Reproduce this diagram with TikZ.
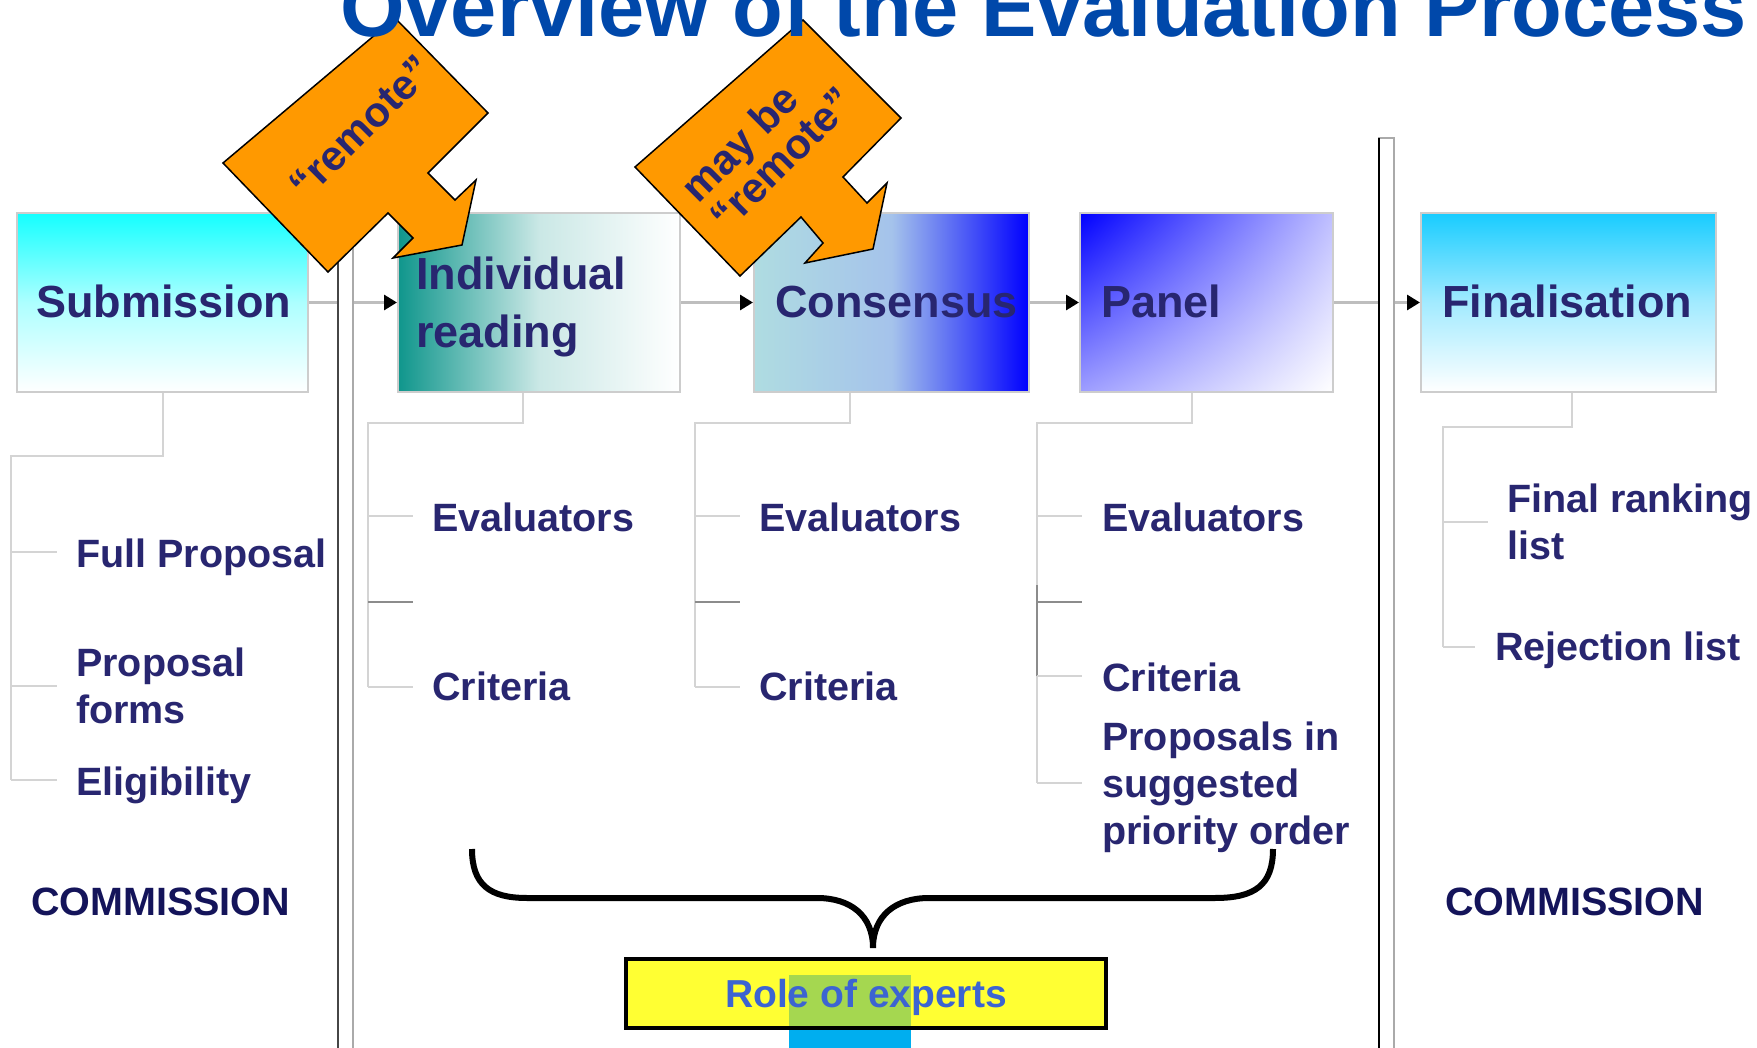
\documentclass[tikz,border=0pt]{standalone}
\usepackage{fontspec}
\setmainfont{Liberation Sans}
\usetikzlibrary{arrows.meta,calc,shadings}
\definecolor{txtnavy}{RGB}{40,38,112}
\definecolor{cmnavy}{RGB}{20,20,90}
\definecolor{titleblue}{RGB}{0,72,170}
\definecolor{orangeC}{RGB}{255,153,0}
\definecolor{treegray}{RGB}{212,212,212}
\definecolor{darktree}{RGB}{140,140,140}
\definecolor{arrowgray}{RGB}{190,190,190}
\definecolor{boxborder}{RGB}{205,205,205}
\definecolor{subcyan}{RGB}{20,255,255}
\definecolor{teal1}{RGB}{15,150,140}
\definecolor{conleft}{RGB}{175,220,225}
\definecolor{conmid}{RGB}{165,195,235}
\definecolor{finblue}{RGB}{24,204,255}
\definecolor{roleyellow}{RGB}{255,255,51}
\definecolor{rolegreen}{RGB}{165,215,80}
\definecolor{roleblue}{RGB}{0,174,239}
\definecolor{roletext}{RGB}{60,100,210}
\definecolor{bargray}{RGB}{170,170,170}
\definecolor{bardark}{RGB}{70,70,70}
\begin{document}
\begin{tikzpicture}[x=1pt,y=-1pt,
  box/.style={rectangle, draw=boxborder, line width=2pt, inner sep=0pt, minimum height=179pt},
  boxtxt/.style={font=\fontsize{45}{58}\selectfont\bfseries, text=txtnavy, inner sep=0pt, align=left},
  item/.style={font=\fontsize{39.5}{47}\selectfont\bfseries, text=txtnavy, inner sep=0pt, align=left},
  cmtxt/.style={font=\fontsize{39.5}{47}\selectfont\bfseries, text=cmnavy, inner sep=0pt},
  arr/.style={draw=arrowgray, line width=3pt, -{Triangle[length=13pt,width=15pt,color=black]}},
  tree/.style={draw=treegray, line width=2.5pt},
  darktick/.style={draw=darktree, line width=2.5pt},
  bar/.style={fill=white, draw=bargray, line width=2.5pt},
  callout/.style={fill=orangeC, draw=black, line width=1.5pt, line join=miter},
  calltxt/.style={font=\fontsize{42}{41}\selectfont\bfseries, text=txtnavy, inner sep=0pt, rotate=45, align=left},
  brace/.style={draw=black, line width=6pt}
]
\useasboundingbox (0,0) rectangle (1757,1048);
\clip (0,0) rectangle (1757,1048);
\fill[white] (0,0) rectangle (1757,1048);

% process boxes
\node[box, minimum width=291pt, top color=subcyan, bottom color=white, middle color=subcyan!35!white] (sub) at (162.5,302.5) {};
\node[box, minimum width=282pt, left color=teal1, right color=white, middle color=teal1!22!white] (ind) at (539,302.5) {};
\node[box, minimum width=275pt, left color=conleft, right color=blue, middle color=conmid] (con) at (891.5,302.5) {};
\node[box, minimum width=253pt, upper left=blue, upper right=blue!25!white, lower left=blue!38!white, lower right=white] (pan) at (1206.5,302.5) {};
\node[box, minimum width=295pt, top color=finblue, bottom color=white, middle color=finblue!40!white] (fin) at (1568.5,302.5) {};

\node[boxtxt, anchor=base west] (subT) at (36,318) {Submission};
\node[boxtxt, anchor=west] (indT) at (416,307) {Individual\\reading};
\node[boxtxt, anchor=base west] (conT) at (775,318) {Consensus};
\node[boxtxt, anchor=base west] (panT) at (1101,318) {Panel};
\node[boxtxt, anchor=base west] (finT) at (1442,318) {Finalisation};

% flow arrows
\draw[arr] (sub.east) -- (ind.west);
\draw[arr] (ind.east) -- (con.west);
\draw[arr] (con.east) -- (pan.west);
\draw[arr] (pan.east) -- (fin.west);

% separator bars
\draw[bar] (338,138) rectangle (353,1060);
\draw[draw=bardark, line width=2pt] (338,138) -- (338,1060);
\draw[bar] (1379,138) rectangle (1394,1060);
\draw[draw=black, line width=2pt] (1379,138) -- (1379,1060);

% trees
\draw[tree] ($(sub.south west)+(147,0)$) |- (11,456) -- (11,780);
\foreach \yy in {552,686,780} \draw[tree] (11,\yy) -- (57,\yy);

\draw[tree] ($(ind.south west)+(126,0)$) |- (368,423) -- (368,687);
\draw[tree] (368,516) -- (413,516);
\draw[darktick] (368,602) -- (413,602);
\draw[tree] (368,687) -- (413,687);

\draw[tree] ($(con.south west)+(97,0)$) |- (695,423) -- (695,687);
\draw[tree] (695,516) -- (740,516);
\draw[darktick] (695,602) -- (740,602);
\draw[tree] (695,687) -- (740,687);

\draw[tree] ($(pan.south west)+(113,0)$) |- (1037,423) -- (1037,783);
\draw[tree] (1037,516) -- (1082,516);
\draw[darktick] (1037,585) -- (1037,676);
\draw[darktick] (1037,602) -- (1082,602);
\draw[tree] (1037,676) -- (1082,676);
\draw[tree] (1037,783) -- (1082,783);

\draw[tree] ($(fin.south west)+(152,0)$) |- (1443,427) -- (1443,647);
\draw[tree] (1443,522) -- (1488,522);
\draw[tree] (1443,647) -- (1475,647);

% items
\node[item, anchor=base west] (fp) at (76,567) {Full Proposal};
\node[item, anchor=west] (pf) at (76,686) {Proposal\\forms};
\node[item, anchor=base west] (el) at (76,795) {Eligibility};
\node[item, anchor=base west] (ie) at (432,531) {Evaluators};
\node[item, anchor=base west] (ic) at (432,700) {Criteria};
\node[item, anchor=base west] (ce) at (759,531) {Evaluators};
\node[item, anchor=base west] (cc) at (759,700) {Criteria};
\node[item, anchor=base west] (pe) at (1102,531) {Evaluators};
\node[item, anchor=base west] (pc) at (1102,691) {Criteria};
\node[item, anchor=west] (pp) at (1102,787) {Proposals in\\suggested\\priority order};
\node[item, anchor=west] (fr) at (1507,522) {Final ranking\\list};
\node[item, anchor=base west] (rl) at (1495,660) {Rejection list};
\node[cmtxt, anchor=base west] (cm1) at (31,915) {COMMISSION};
\node[cmtxt, anchor=base west] (cm2) at (1445,915) {COMMISSION};

% brace
\draw[brace] (472,849) .. controls (472,885) and (490,898) .. (527,898) -- (817,898)
  .. controls (850,898) and (873,915) .. (873,948)
  .. controls (873,915) and (896,898) .. (929,898) -- (1215,898)
  .. controls (1255,898) and (1273,885) .. (1273,849);

% role of experts
\fill[roleyellow] (626,959) rectangle (1106,1028);
\fill[rolegreen] (789,975) rectangle (911,1028);
\fill[roleblue] (789,1030) rectangle (911,1048);
\node[draw=black, line width=4pt, minimum width=480pt, minimum height=69pt, inner sep=0pt,
  font=\fontsize{39}{47}\selectfont\bfseries, text=roletext, text height=28.4pt, text depth=0pt] (role) at (866,993.5) {Role of experts};

% callouts
\draw[callout] (395,18) -- (488,113) -- (428,173) -- (455,200) -- (476,180) -- (462,245) -- (393,258) -- (413,238) -- (388,213) -- (328,272) -- (223,163) -- cycle;
\node[calltxt] (c1t) at (361,127) {“remote”};
\draw[callout] (803,20) -- (901,118) -- (843,177) -- (867,203) -- (887,183) -- (873,249) -- (805,263) -- (823,243) -- (801,217) -- (740,276) -- (635,167) -- cycle;
\node[calltxt] (c2t) at (767,144) {may be\\“remote”};

% title
\node[font=\fontsize{83}{90}\selectfont\bfseries, text=titleblue, anchor=base west, inner sep=0pt] (title) at (340,37) {Overview of the Evaluation Process};
\end{tikzpicture}
\end{document}
